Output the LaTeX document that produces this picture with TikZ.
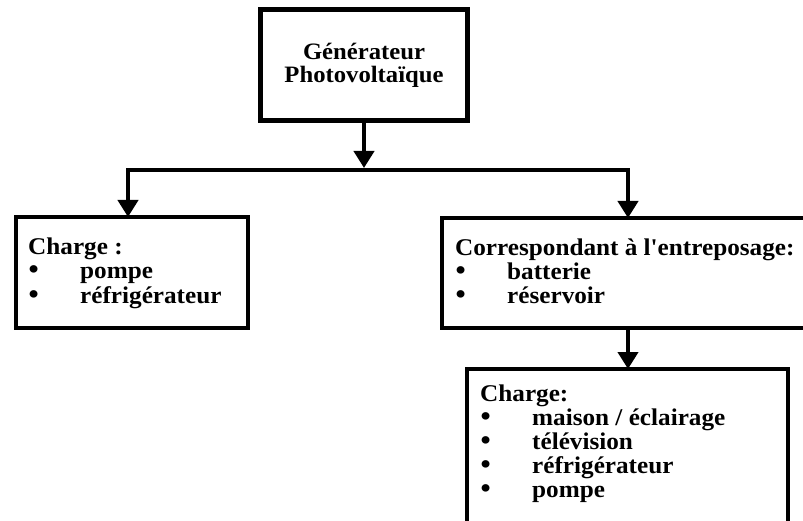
\documentclass[tikz,border=0pt]{standalone}
\usepackage{fontspec}
\setmainfont{Liberation Serif}[FakeStretch=1.05]
\newfontfamily\rawfont{Liberation Serif}[FakeStretch=1.05, Ligatures=TeXOff]
\usetikzlibrary{arrows.meta}
\newcommand\bul{\makebox[52pt][l]{\hspace{0.5pt}\scalebox{1.15}{•}}}
\begin{document}
\begin{tikzpicture}[x=1pt,y=-1pt,
  box/.style={draw, rectangle, line width=4.5pt, inner sep=0pt, outer sep=0pt, anchor=north west},
  conn/.style={line width=4pt},
  arr/.style={conn, -{Triangle[width=20pt,length=17pt]}},
  txt/.style={inner sep=0pt, anchor=base west, font=\fontsize{24}{24}\selectfont\bfseries},
]
\useasboundingbox (0,0) rectangle (803,521);
\clip (0,0) rectangle (803,521);
\fill[white] (0,0) rectangle (803,521);

% boxes
\node[box, line width=5pt, minimum width=207pt, minimum height=111pt] (gen) at (260.5,9.5) {};
\node[box, minimum width=232pt, minimum height=111pt] (chargeA) at (16,217) {};
\node[box, minimum width=400pt, minimum height=110pt] (stock) at (442,218) {};
\node[box, minimum width=321pt, minimum height=200pt] (chargeB) at (467,369) {};

% texts
\node[inner sep=0pt, align=center, font=\fontsize{23.5}{23}\selectfont\bfseries] (gentxt) at (gen.center) {Générateur\\Photovoltaïque};
\node[txt] (tA) at (28,255) {\begin{tabular}[t]{@{}l@{}}Charge :\\ \bul pompe\\ \bul réfrigérateur\end{tabular}};
\node[txt] (tS) at (455,256) {\begin{tabular}[t]{@{}l@{}}Correspondant à l{\rawfont\bfseries '}entreposage:\\ \bul batterie\\ \bul réservoir\end{tabular}};
\node[txt] (tB) at (480,401) {\begin{tabular}[t]{@{}l@{}}Charge:\\ \bul maison / éclairage\\ \bul télévision\\ \bul réfrigérateur\\ \bul pompe\end{tabular}};

% connectors
\coordinate (j) at (364,168);
\coordinate (jm) at (364,170);
\coordinate (jl) at (128,170);
\coordinate (jr) at (628,170);
\draw[arr] (gen.south) -- (j);
\draw[arr] (jm) -- (jl) -- (jl |- chargeA.north);
\draw[arr] (jm) -- (jr) -- (jr |- stock.north);
\draw[arr] (jr |- stock.south) -- (jr |- chargeB.north);
\end{tikzpicture}
\end{document}
